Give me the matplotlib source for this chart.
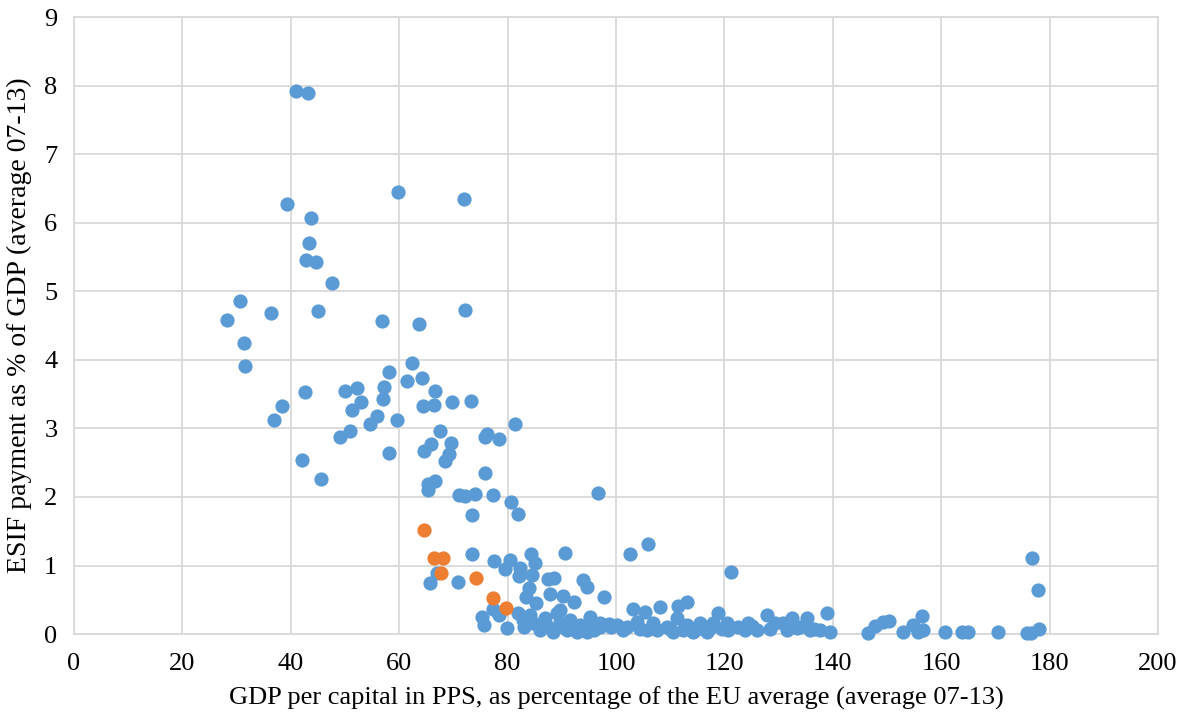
import matplotlib
matplotlib.use("Agg")
import matplotlib.pyplot as plt

# blue regions: GDP per capita (% of EU avg) and ESIF payment (% of GDP)
gdp_blue = [
    41.0, 43.2, 39.3, 59.8, 72.0, 43.7, 43.4, 42.8, 44.6, 47.6,
    30.6, 28.2, 36.3, 45.0, 56.8, 63.7, 72.1, 31.4, 31.5, 42.6,
    38.4, 36.9, 49.1, 50.9, 50.0, 52.2, 58.1, 57.2, 57.0, 53.0,
    51.3, 55.9, 54.6, 59.6, 62.4, 61.4, 64.2, 66.6, 64.4, 66.4,
    69.7, 73.2, 67.5, 64.6, 65.9, 69.6, 69.2, 68.5, 75.8, 76.2,
    78.4, 81.4, 58.1, 42.1, 45.6, 75.8, 65.3, 66.6, 65.3, 71.0,
    72.1, 74.0, 77.3, 80.6, 81.9, 73.4, 96.7, 90.6, 102.6, 105.9,
    121.2, 67.0, 65.7, 70.8, 73.4, 77.5, 80.4, 79.5, 82.3, 82.1,
    84.5, 84.3, 85.1, 77.3, 78.4, 75.3, 75.6, 79.9,
    87.5, 88.6, 93.9, 94.6, 83.9, 83.4, 87.8, 90.2, 85.2, 92.3,
    97.8, 89.7, 84.1, 81.9, 82.8, 84.7, 86.9, 89.1, 89.7, 91.5,
    93.4, 95.2, 95.8, 97.0, 86.0, 88.4, 91.0, 92.8, 94.6,
    97.0, 100.2, 103.1, 105.4, 108.1, 111.4, 113.1, 103.9, 106.8, 109.4,
    111.3, 113.1, 115.5, 117.3, 118.8, 101.3, 105.7, 110.5, 114.2, 116.8,
    117.9, 120.5, 120.7, 124.4, 123.8, 126.0, 127.9, 129.3, 130.8, 132.5,
    133.4, 135.2, 135.8, 137.6, 138.9, 139.5, 117.3,
    146.5, 147.8, 149.3, 150.4, 153.0, 154.8, 155.7, 156.5, 156.6, 160.7,
    163.8, 164.9, 170.5, 175.8, 176.6, 176.8, 177.9, 178.0,
    # extra points in the dense strip near zero
    83.0, 87.2, 90.3, 93.0, 96.0, 99.0, 102.0, 104.5, 107.5, 110.0,
    112.3, 115.0, 119.5, 122.5, 125.0, 128.5, 131.5, 134.0, 136.5, 98.8,
]
esif_blue = [
    7.92, 7.89, 6.27, 6.45, 6.35, 6.07, 5.70, 5.46, 5.43, 5.12,
    4.86, 4.58, 4.68, 4.71, 4.57, 4.52, 4.73, 4.24, 3.91, 3.53,
    3.33, 3.12, 2.87, 2.96, 3.54, 3.59, 3.82, 3.60, 3.43, 3.38,
    3.27, 3.18, 3.06, 3.12, 3.95, 3.69, 3.73, 3.54, 3.33, 3.34,
    3.38, 3.40, 2.96, 2.67, 2.77, 2.79, 2.63, 2.52, 2.87, 2.92,
    2.84, 3.06, 2.64, 2.54, 2.26, 2.35, 2.19, 2.23, 2.10, 2.03,
    2.01, 2.04, 2.03, 1.93, 1.75, 1.74, 2.06, 1.18, 1.17, 1.31,
    0.90, 0.89, 0.74, 0.76, 1.17, 1.06, 1.08, 0.95, 0.96, 0.85,
    0.86, 1.17, 1.04, 0.36, 0.28, 0.25, 0.13, 0.09,
    0.80, 0.82, 0.79, 0.68, 0.67, 0.54, 0.58, 0.55, 0.45, 0.47,
    0.54, 0.35, 0.28, 0.31, 0.20, 0.16, 0.23, 0.31, 0.18, 0.20,
    0.13, 0.25, 0.10, 0.16, 0.06, 0.03, 0.06, 0.03, 0.03,
    0.10, 0.13, 0.36, 0.32, 0.39, 0.41, 0.47, 0.18, 0.16, 0.10,
    0.23, 0.13, 0.16, 0.10, 0.31, 0.06, 0.06, 0.03, 0.03, 0.03,
    0.16, 0.16, 0.06, 0.16, 0.06, 0.06, 0.28, 0.16, 0.16, 0.23,
    0.09, 0.23, 0.06, 0.06, 0.31, 0.03, 0.09,
    0.02, 0.12, 0.18, 0.19, 0.03, 0.13, 0.03, 0.26, 0.06, 0.03,
    0.03, 0.03, 0.03, 0.02, 0.02, 1.11, 0.64, 0.07,
    0.10, 0.12, 0.10, 0.08, 0.06, 0.10, 0.10, 0.08, 0.06, 0.08,
    0.06, 0.08, 0.08, 0.10, 0.12, 0.08, 0.06, 0.10, 0.08, 0.14,
]

# highlighted regions (orange)
gdp_orange = [64.6, 66.4, 68.1, 67.7, 74.2, 77.3, 79.7]
esif_orange = [1.52, 1.11, 1.11, 0.89, 0.82, 0.53, 0.38]

x_ticks = list(range(0, 201, 20))
y_ticks = list(range(0, 10))

BLUE = "#5B9BD5"
ORANGE = "#ED7D31"
GRID = "#D9D9D9"

plt.rcParams["font.family"] = ["Liberation Serif", "DejaVu Serif"]

fig = plt.figure(figsize=(11.82, 7.2), dpi=100)
ax = fig.add_axes([0.0626, 0.1194, 0.9171, 0.8566])

ax.scatter(gdp_blue, esif_blue, s=105, color=BLUE, linewidths=0, zorder=3, clip_on=False)
ax.scatter(gdp_orange, esif_orange, s=105, color=ORANGE, linewidths=0, zorder=4, clip_on=False)

ax.set_xlim(0, 200)
ax.set_ylim(0, 9)
ax.set_xticks(x_ticks)
ax.set_yticks(y_ticks)
ax.grid(True, color=GRID, linewidth=1.3, zorder=0)
ax.set_axisbelow(True)
for sp in ax.spines.values():
    sp.set_color(GRID)
    sp.set_linewidth(1.3)
    sp.set_zorder(0)
ax.tick_params(length=0, labelsize=19, pad=12)
ax.tick_params(axis="x", pad=14)

ax.set_xlabel("GDP per capital in PPS, as percentage of the EU average (average 07-13)",
              fontsize=19, labelpad=8)
ax.set_ylabel("ESIF payment as % of GDP (average 07-13)", fontsize=20, labelpad=9)

fig.savefig("out.png", dpi=100)
